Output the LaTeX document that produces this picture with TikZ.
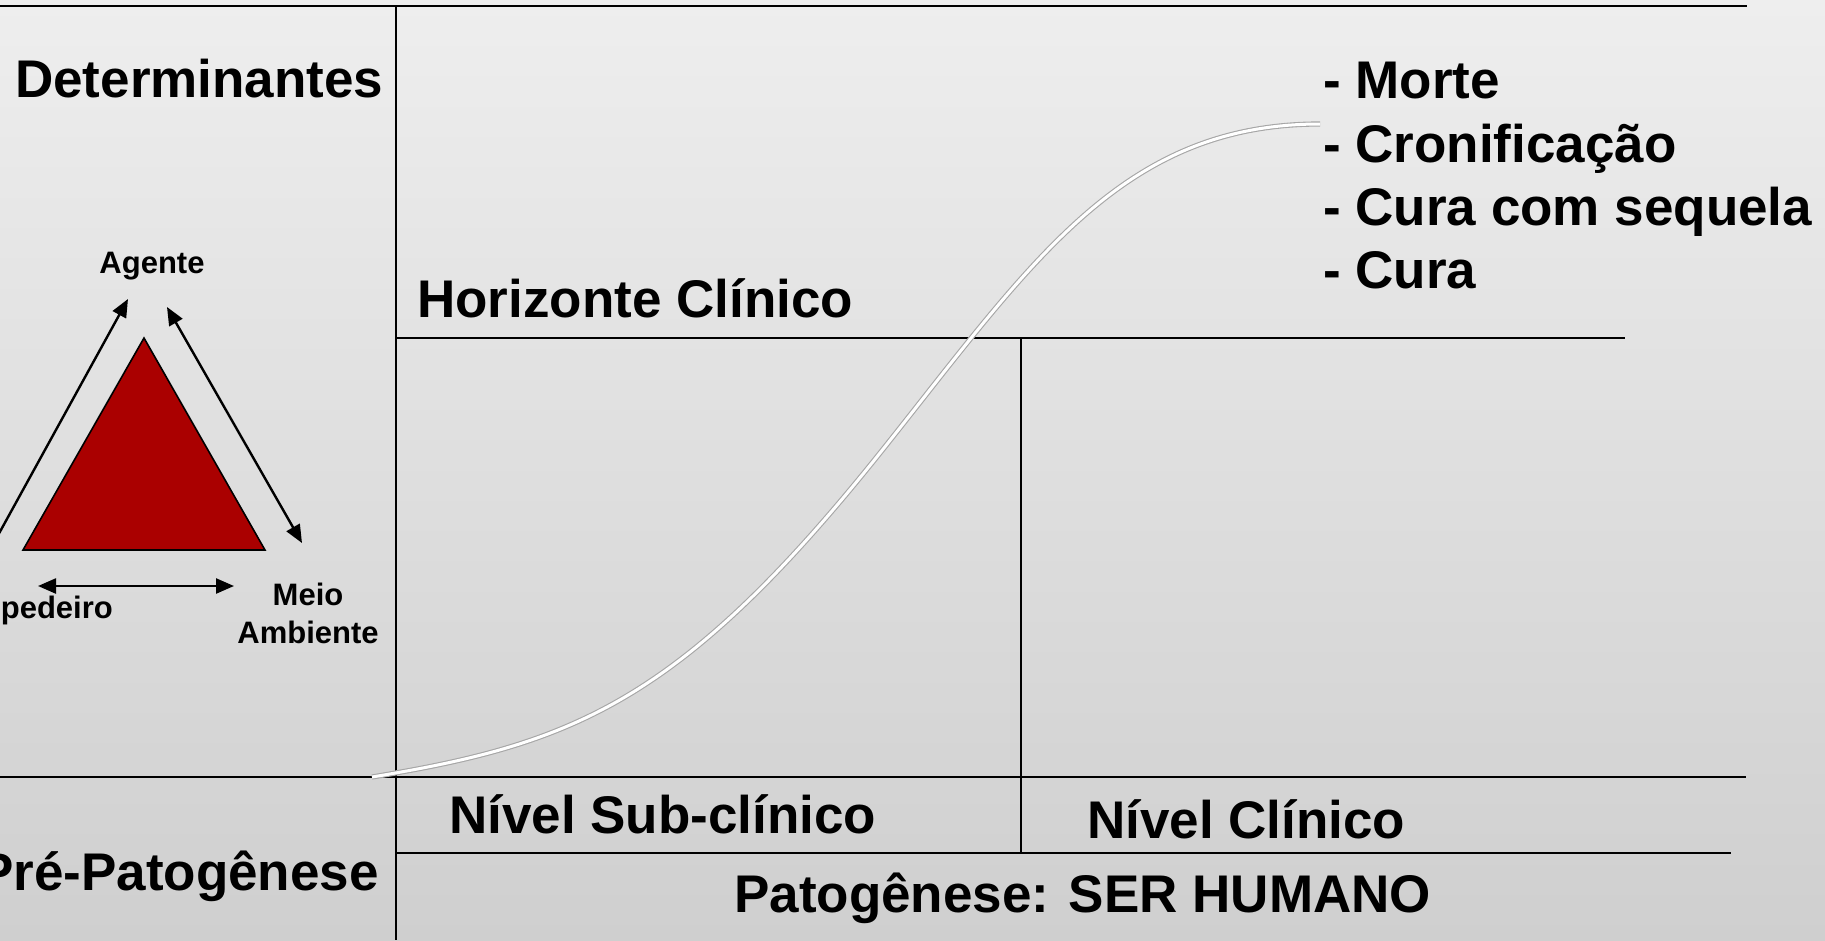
\documentclass[tikz,border=0pt]{standalone}
\usepackage{fontspec}
\setmainfont{Liberation Sans}
\usepackage{tikz}
\usetikzlibrary{arrows.meta}
\usepackage{xcolor}
\definecolor{bgtop}{RGB}{238,238,238}
\definecolor{bgbot}{RGB}{207,207,207}
\definecolor{trired}{RGB}{170,0,0}

\begin{document}
\begin{tikzpicture}[x=1pt,y=-1pt,
  big/.style={font=\fontsize{53}{64}\selectfont\bfseries,inner sep=0},
  small/.style={font=\fontsize{31}{37}\selectfont\bfseries,inner sep=0},
  rule/.style={line width=2pt},
  onetip/.style={line width=2.4pt,-{Triangle[length=18pt,width=15pt]}},
  twotip/.style={line width=2.4pt,{Triangle[length=18pt,width=15pt]}-{Triangle[length=18pt,width=15pt]}},
  curve/.style={draw=gray!70,double=white,double distance=3pt,line width=1.1pt}]
\useasboundingbox (0,0) rectangle (1825,940);
\shade[top color=bgtop,bottom color=bgbot] (0,0) rectangle (1825,940);
\draw[rule] (0,6)--(1747,6);
\draw[rule] (396,6)--(396,940);
\draw[rule] (396,338)--(1625,338);
\draw[rule] (1021,338)--(1021,853);
\draw[rule] (0,777)--(1746,777);
\draw[rule] (396,853)--(1731,853);
\node[big,anchor=base west] (det) at (15,97) {Determinantes};
\node[big,anchor=base west] (hor) at (417,317) {Horizonte Clínico};
\node[big,anchor=base west] (m1) at (1323,98) {- Morte};
\node[big,anchor=base west] (m2) at (1323,162) {- Cronificação};
\node[big,anchor=base west] (m3) at (1323,225) {- Cura com sequela};
\node[big,anchor=base west] (m4) at (1323,288) {- Cura};
\node[big,anchor=base west] (sub) at (449,833) {Nível Sub-clínico};
\node[big,anchor=base west] (cli) at (1087,838) {Nível Clínico};
\node[big,anchor=base east] (pre) at (379,890) {Pré-Patogênese};
\node[big,anchor=base west] (pat) at (734,912) {Patogênese: SER HUMANO};
\node[small,anchor=base] (ag) at (152,273) {Agente};
\node[small,anchor=base east] (hosp) at (113,618) {Hospedeiro};
\node[small,anchor=base] (meio) at (308,605) {Meio};
\node[small,anchor=base] (amb) at (308,643) {Ambiente};
\draw[line width=1.6pt,fill=trired] (144,338)--(265,550)--(23,550)--cycle;
\coordinate (h1) at (-9,548);
\coordinate (a1) at (128,299);
\coordinate (a2) at (167,307);
\coordinate (e1) at (302,543);
\coordinate (h2) at (38,586);
\coordinate (e2) at (234,586);
\draw[onetip] (h1)--(a1);
\draw[twotip] (a2)--(e1);
\draw[twotip] (h2)--(e2);
\coordinate (c0) at (372,777);
\coordinate (c1) at (880,453);
\coordinate (c2) at (1320,124);
\draw[curve] (c0) .. controls (572,744) and (680,703) .. (c1)
  .. controls (1030,265) and (1120,124) .. (c2);
\end{tikzpicture}
\end{document}
